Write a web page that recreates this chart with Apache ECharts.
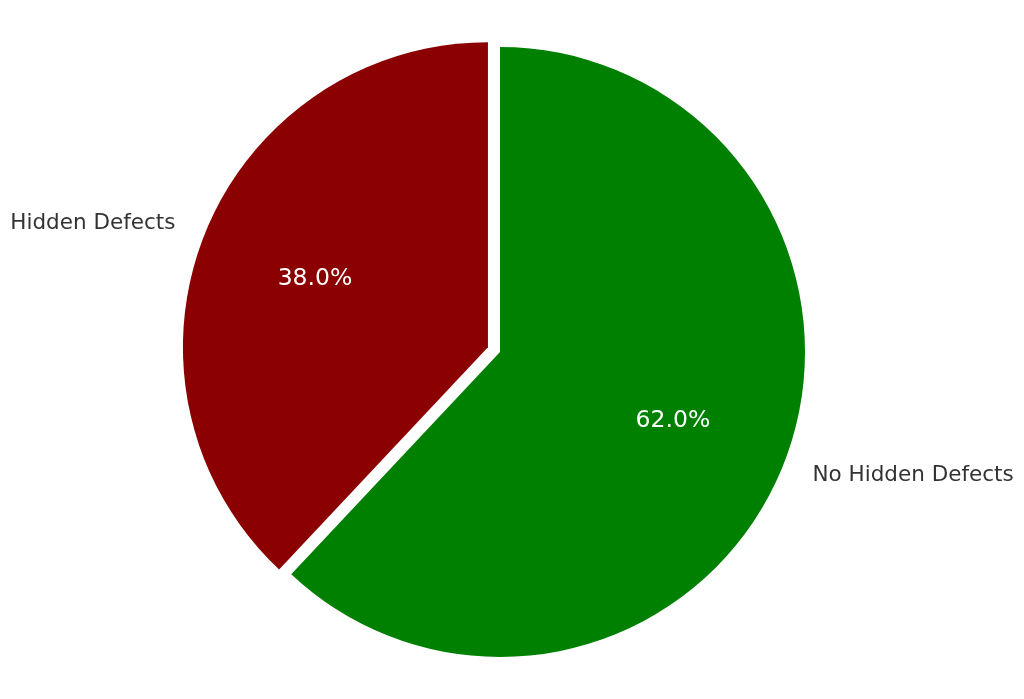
<!DOCTYPE html>
<html>
<head>
<meta charset="utf-8">
<script src="https://cdn.jsdelivr.net/npm/echarts@6/dist/echarts.min.js"></script>
<style>html,body{margin:0;padding:0;background:#fff;}#chart{width:1024px;height:699px;}</style>
</head>
<body>
<div id="chart"></div>
<script>
const categories = ['No Hidden Defects', 'Hidden Defects'];
const values = [62.0, 38.0];
const colors = ['#008000', '#8B0000'];
const explodedIndex = 1;

const chart = echarts.init(document.getElementById('chart'));
const R = 305;
const center = [500, 352];
const total = values.reduce((a, b) => a + b, 0);

function makeData(transparent) {
  return categories.map((c, i) => ({
    name: c,
    value: values[i],
    selected: i === explodedIndex,
    itemStyle: transparent ? { color: 'rgba(0,0,0,0)' } : { color: colors[i] }
  }));
}

chart.setOption({
  animation: false,
  series: [
    {
      type: 'pie',
      center: center,
      radius: [0, R],
      startAngle: 90,
      clockwise: true,
      selectedMode: 'single',
      selectedOffset: 13,
      avoidLabelOverlap: false,
      silent: true,
      emphasis: { disabled: true },
      data: makeData(false),
      label: {
        show: true,
        position: 'outside',
        fontFamily: 'DejaVu Sans',
        fontSize: 21.5,
        color: '#333333'
      },
      labelLine: { show: false, length: 30, length2: -4 }
    },
    {
      type: 'pie',
      center: center,
      radius: [0, R * 1.2],
      startAngle: 90,
      clockwise: true,
      selectedMode: 'single',
      selectedOffset: 13,
      avoidLabelOverlap: false,
      silent: true,
      emphasis: { disabled: true },
      data: makeData(true),
      label: {
        show: true,
        position: 'inside',
        fontFamily: 'DejaVu Sans',
        fontSize: 23.5,
        color: '#ffffff',
        formatter: p => (p.value / total * 100).toFixed(1) + '%'
      },
      labelLine: { show: false }
    }
  ]
});
</script>
</body>
</html>
